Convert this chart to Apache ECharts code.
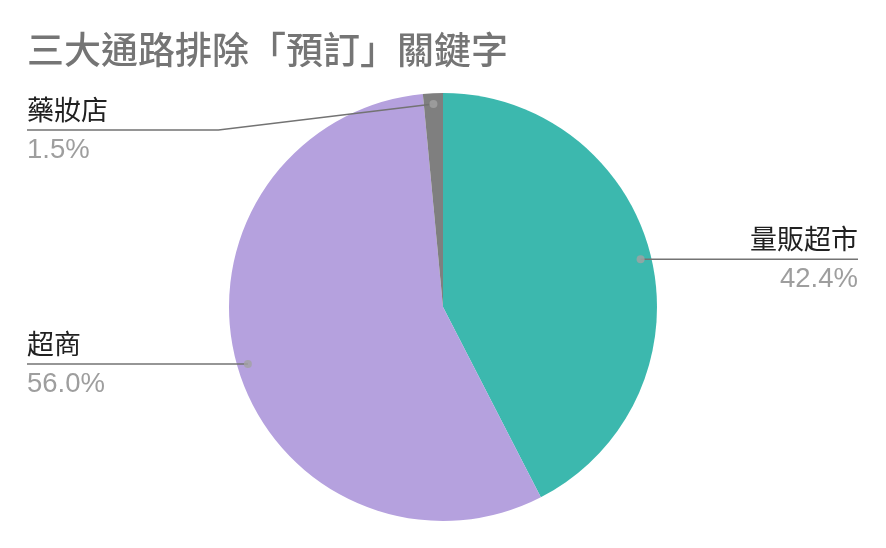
<!DOCTYPE html>
<html><head><meta charset="utf-8">
<script src="https://cdn.jsdelivr.net/npm/echarts@6/dist/echarts.min.js"></script>
<style>html,body{margin:0;padding:0;background:#fff}#c{width:886px;height:548px}</style>
</head><body><div id="c"></div>
<script>
const titleText = '三大通路排除「預訂」關鍵字';
const categories = ['量販超市', '超商', '藥妝店'];
const values = [42.4, 56.0, 1.5];
const colors = ['#3CB8AE', '#B5A1DE', '#7F7F7F'];

const total = values.reduce((a, b) => a + b, 0);
const mids = [];
let acc = 0;
values.forEach(v => { mids.push(acc + v / 2); acc += v; });

const CENTER = [443, 307];
const R = 214;
const DOT_R = 0.95;
const EDGE = 27;
const LABEL_MIN_Y = 130;
const ELBOW = 215;

const chart = echarts.init(document.getElementById('c'), null, { renderer: 'canvas' });

const pieData = categories.map((c, i) => ({ name: c, value: values[i], itemStyle: { color: colors[i] } }));
const labelData = categories.map((c, i) => ({ name: c, value: values[i] }));

chart.setOption({
  animation: false,
  title: {
    text: titleText, left: 27, top: 31, padding: 0,
    textStyle: { fontFamily: 'Noto Sans CJK TC', fontSize: 37, fontWeight: 500, color: '#757575', lineHeight: 37 }
  },
  polar: { center: CENTER, radius: R },
  angleAxis: { type: 'value', min: 0, max: total, startAngle: 90, clockwise: true, show: false },
  radiusAxis: { type: 'value', min: 0, max: 1, show: false },
  series: [
    {
      type: 'pie', center: CENTER, radius: R, startAngle: 90, clockwise: true, z: 1,
      data: pieData, label: { show: false }, labelLine: { show: false },
      emphasis: { disabled: true }, silent: true, itemStyle: { borderWidth: 0 }
    },
    {
      type: 'pie', center: CENTER, radius: R * DOT_R, startAngle: 90, clockwise: true, z: 3,
      data: labelData, silent: true, avoidLabelOverlap: false,
      emphasis: { disabled: true },
      itemStyle: { color: 'rgba(0,0,0,0)', borderWidth: 0 },
      label: {
        show: true, position: 'outside',
        formatter: p => '{n|' + p.name + '}\n{v|' + p.value.toFixed(1) + '%}',
        rich: {
          n: { fontFamily: 'Noto Sans CJK TC', fontSize: 27, color: '#212121', lineHeight: 40 },
          v: { fontFamily: 'Liberation Sans', fontSize: 27.5, color: '#9E9E9E', lineHeight: 40 }
        }
      },
      labelLine: { show: true, length: 10, length2: 10, lineStyle: { color: '#737373', width: 1.5 } },
      labelLayout: function (p) {
        const W = chart.getWidth();
        const p0 = p.labelLinePoints[0];
        const right = p0[0] > W / 2;
        const lineY = Math.max(p0[1], LABEL_MIN_Y);
        const pts = [[p0[0], p0[1]]];
        if (lineY !== p0[1]) pts.push([p0[0] + (right ? ELBOW : -ELBOW), lineY]);
        const edgeX = right ? W - EDGE - 1 : EDGE;
        pts.push([edgeX, lineY]);
        return { x: edgeX, y: lineY, align: right ? 'right' : 'left', verticalAlign: 'middle', labelLinePoints: pts };
      }
    },
    {
      type: 'scatter', coordinateSystem: 'polar', silent: true, z: 5,
      symbol: 'circle', symbolSize: 8,
      itemStyle: { color: '#A3A3A3' },
      data: mids.map(m => [DOT_R, m])
    }
  ]
});
</script></body></html>
